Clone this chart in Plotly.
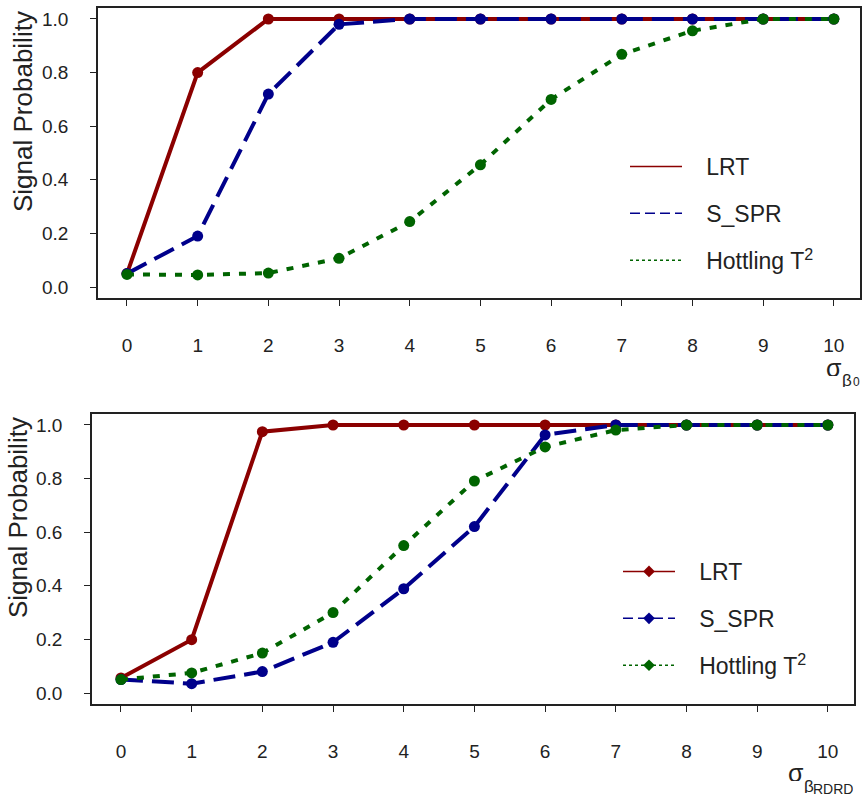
import plotly.graph_objects as go

x_vals = [0, 1, 2, 3, 4, 5, 6, 7, 8, 9, 10]
tick_labels = ["0", "1", "2", "3", "4", "5", "6", "7", "8", "9", "10"]
y_tick_vals = [0.0, 0.2, 0.4, 0.6, 0.8, 1.0]
y_tick_labels = ["0.0", "0.2", "0.4", "0.6", "0.8", "1.0"]

# top panel (sigma beta_0)
top_lrt = [0.05, 0.80, 1.0, 1.0, 1.0, 1.0, 1.0, 1.0, 1.0, 1.0, 1.0]
top_sspr = [0.05, 0.19, 0.72, 0.98, 1.0, 1.0, 1.0, 1.0, 1.0, 1.0, 1.0]
top_hot = [0.047, 0.045, 0.052, 0.107, 0.244, 0.456, 0.70, 0.868, 0.956, 1.0, 1.0]

# bottom panel (sigma beta_RDRD)
bot_lrt = [0.056, 0.199, 0.975, 1.0, 1.0, 1.0, 1.0, 1.0, 1.0, 1.0, 1.0]
bot_sspr = [0.05, 0.035, 0.08, 0.189, 0.389, 0.621, 0.963, 1.0, 1.0, 1.0, 1.0]
bot_hot = [0.05, 0.075, 0.149, 0.30, 0.55, 0.791, 0.918, 0.981, 1.0, 1.0, 1.0]

names = ["LRT", "S_SPR", "Hottling T<sup>2</sup>"]
colors = ["#8B0000", "#00008B", "#006400"]
dashes = ["solid", "22px,9px", "7px,9px"]
leg_dashes = ["solid", "10px,5px", "3px,3px"]

FONT = "Liberation Sans, Arial, sans-serif"
W, H = 863, 796
GAP = "\u00a0\u00a0\u00a0"

fig = go.Figure()

panels = [
    (top_lrt, top_sspr, top_hot, "x", "y", "legend", False),
    (bot_lrt, bot_sspr, bot_hot, "x2", "y2", "legend2", True),
]
for lrt, sspr, hot, xa, ya, lg, legmark in panels:
    for i, ys in enumerate([lrt, sspr, hot]):
        fig.add_trace(go.Scatter(
            x=x_vals, y=ys, mode="lines+markers", xaxis=xa, yaxis=ya,
            line=dict(color=colors[i], width=4, dash=dashes[i]),
            marker=dict(color=colors[i], size=11, symbol="circle"),
            showlegend=False, hoverinfo="skip"))
    for i in range(3):
        fig.add_trace(go.Scatter(
            x=[None], y=[None], xaxis=xa, yaxis=ya,
            mode="lines+markers" if legmark else "lines",
            name=GAP + names[i], legend=lg, legendgroup=lg + str(i),
            line=dict(color=colors[i], width=1.5, dash=leg_dashes[i]),
            marker=dict(color=colors[i], size=9, symbol="diamond")))

def px_x(p):
    return p / W

def px_y(p):
    return 1 - p / H

axis_common = dict(
    showgrid=False, zeroline=False, showline=True, linecolor="#222", linewidth=1.5,
    mirror=True, ticks="outside", ticklen=6, tickwidth=1.2, tickcolor="#222",
    tickfont=dict(family=FONT, size=19, color="#222"),
)

fig.update_layout(
    width=W, height=H, margin=dict(l=0, r=0, t=0, b=0),
    plot_bgcolor="white", paper_bgcolor="white",
    font=dict(family=FONT, color="#222"),
    xaxis=dict(domain=[px_x(98), px_x(860)], range=[-0.41, 10.37], anchor="y",
               tickvals=x_vals, ticktext=tick_labels, ticklabelstandoff=23, **axis_common),
    yaxis=dict(domain=[px_y(298), px_y(8)], range=[-0.041, 1.041], anchor="x",
               tickvals=y_tick_vals, ticktext=y_tick_labels, ticklabelstandoff=18, **axis_common),
    xaxis2=dict(domain=[px_x(92), px_x(854)], range=[-0.41, 10.37], anchor="y2",
                tickvals=x_vals, ticktext=tick_labels, ticklabelstandoff=23, **axis_common),
    yaxis2=dict(domain=[px_y(704), px_y(414)], range=[-0.041, 1.041], anchor="x2",
                tickvals=y_tick_vals, ticktext=y_tick_labels, ticklabelstandoff=18, **axis_common),
    legend=dict(x=px_x(625), y=px_y(145), xanchor="left", yanchor="top",
                bgcolor="rgba(0,0,0,0)", font=dict(family=FONT, size=23, color="#222"),
                tracegroupgap=14, itemwidth=52),
    legend2=dict(x=px_x(618), y=px_y(550), xanchor="left", yanchor="top",
                 bgcolor="rgba(0,0,0,0)", font=dict(family=FONT, size=23, color="#222"),
                 tracegroupgap=14, itemwidth=52),
)

annots = [
    dict(text="Signal Probability", x=px_x(23), y=px_y(112), textangle=-90, size=26),
    dict(text="Signal Probability", x=px_x(18), y=px_y(518), textangle=-90, size=26),
    # top x-axis title: sigma_{beta_0}
    dict(text="σ", x=px_x(834), y=px_y(368), size=25, height=16),
    dict(text="β", x=px_x(847), y=px_y(380), size=17, height=14),
    dict(text="0", x=px_x(856), y=px_y(382), size=12, height=10),
    # bottom x-axis title: sigma_{beta_RDRD}
    dict(text="σ", x=px_x(796), y=px_y(773), size=25, height=16),
    dict(text="β", x=px_x(809), y=px_y(786), size=17, height=14),
    dict(text="RDRD", x=px_x(833), y=px_y(788), size=14, height=11),
]
for a in annots:
    size = a.pop("size")
    fig.add_annotation(xref="paper", yref="paper", showarrow=False,
                       xanchor="center", yanchor="middle", valign="middle",
                       font=dict(family=FONT, size=size, color="#222"), **a)

fig.write_html("out.html", config={"displayModeBar": False},
               post_script="document.body.style.margin='0';document.body.style.overflow='hidden';")
